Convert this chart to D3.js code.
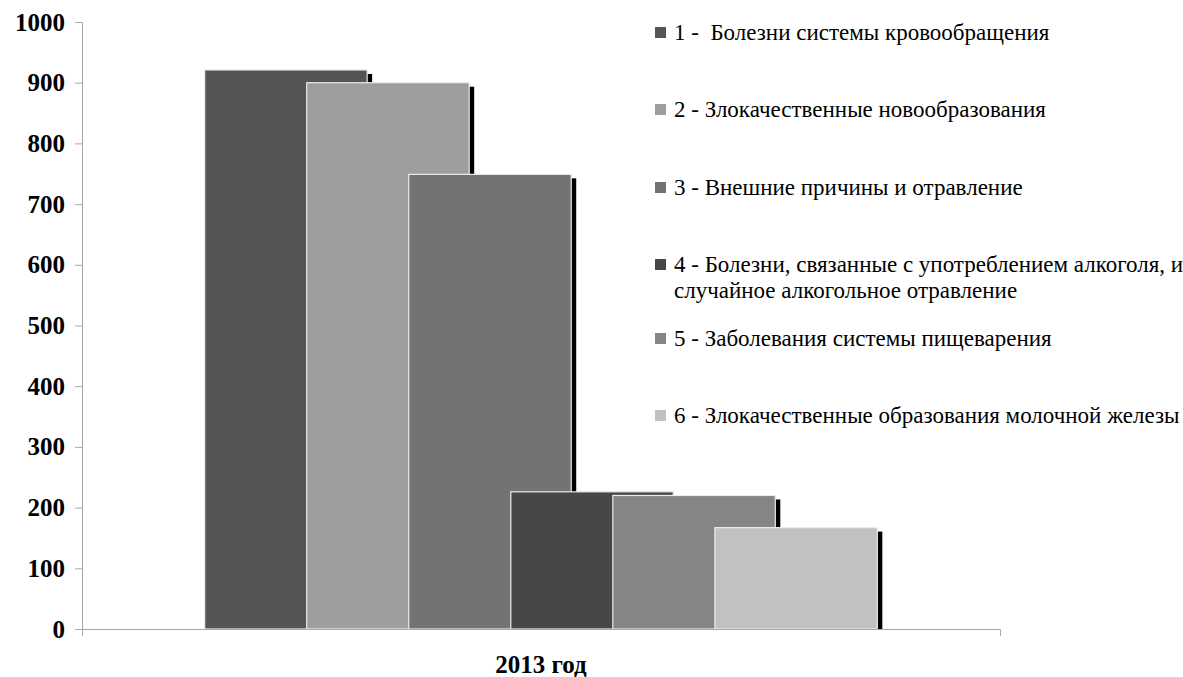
<!DOCTYPE html>
<html>
<head>
<meta charset="utf-8">
<script src="https://cdn.jsdelivr.net/npm/d3@7"></script>
<style>
  html, body { margin: 0; padding: 0; background: #fff; }
  svg { display: block; }
  .serif { font-family: "Liberation Serif", "Times New Roman", Times, "DejaVu Serif", serif; }
</style>
</head>
<body>
<svg id="chart" width="1183" height="677"></svg>
<script>
// Mortality causes, 2013
const categories = ["2013 год"];
const seriesLabels = [
  ["1 -  Болезни системы кровообращения"],
  ["2 - Злокачественные новообразования"],
  ["3 - Внешние причины и отравление"],
  ["4 - Болезни, связанные с употреблением алкоголя, и", "случайное алкогольное отравление"],
  ["5 - Заболевания системы пищеварения"],
  ["6 - Злокачественные образования молочной железы"]
];
const seriesValues = [921, 900, 749, 226, 220, 167];
const seriesColors = ["#555555", "#9e9e9e", "#737373", "#474747", "#858585", "#c1c1c1"];
const yTicks = [0, 100, 200, 300, 400, 500, 600, 700, 800, 900, 1000];

const svg = d3.select("#chart");
const plotLeft = 82, plotRight = 1000, plotTop = 22, plotBottom = 629;

const y = d3.scaleLinear().domain([0, 1000]).range([plotBottom, plotTop]);
const x0 = d3.scaleBand().domain(categories).range([plotLeft, plotRight]).padding(0);

// Overlapping cluster: bar width, step between bars, side gaps
const overlap = 0.372, gapRatio = 1.51, n = seriesValues.length;
const barW = x0.bandwidth() / (1 + (n - 1) * (1 - overlap) + gapRatio);
const step = barW * (1 - overlap);
const groupStart = x0(categories[0]) + (x0.bandwidth() - (barW + (n - 1) * step)) / 2;
const x1 = d3.scaleBand().domain(d3.range(n)).range([groupStart, groupStart + n * step]).padding(0);

// Y axis
const yAxis = d3.axisLeft(y).tickValues(yTicks).tickFormat(d3.format("d")).tickSize(7).tickPadding(11);
const gy = svg.append("g").attr("transform", `translate(${plotLeft},0)`).call(yAxis);
gy.attr("font-family", null).attr("font-size", null);
gy.select(".domain").attr("stroke", "#a8a8a8").attr("d", `M-7,${plotTop + 0.5}H0.5V${plotBottom + 7}`);
gy.selectAll(".tick line").attr("stroke", "#a8a8a8");
gy.selectAll(".tick text")
  .attr("class", "serif")
  .attr("fill", "#000")
  .style("font-weight", "bold")
  .style("font-size", "25px")
  .attr("x", -17);

// Bars with a dark drop shadow on the right
const bars = svg.append("g");
seriesValues.forEach((v, i) => {
  const bx = x1(i);
  bars.append("rect")
    .attr("x", bx + 5).attr("y", y(v) + 4)
    .attr("width", barW).attr("height", plotBottom - y(v) - 4)
    .attr("fill", "#000");
  bars.append("rect")
    .attr("x", bx).attr("y", y(v))
    .attr("width", barW).attr("height", plotBottom - y(v))
    .attr("fill", seriesColors[i])
    .attr("stroke", "#ececec").attr("stroke-width", 1.2);
});

// X axis
const xAxisG = svg.append("g");
xAxisG.append("path")
  .attr("d", `M${plotLeft},${plotBottom + 0.5}H${plotRight + 0.5}V${plotBottom + 7}`)
  .attr("stroke", "#a8a8a8").attr("fill", "none");
xAxisG.append("text")
  .attr("class", "serif")
  .attr("x", x0(categories[0]) + x0.bandwidth() / 2)
  .attr("y", 673)
  .attr("text-anchor", "middle")
  .style("font-weight", "bold")
  .style("font-size", "25px")
  .text(categories[0]);

// Legend
const legendRows = [32, 109, 187, 264, 338, 415];
const legend = svg.append("g");
seriesLabels.forEach((lines, i) => {
  const ly = legendRows[i];
  legend.append("rect")
    .attr("x", 655).attr("y", ly - 5).attr("width", 11).attr("height", 11)
    .attr("fill", seriesColors[i]);
  lines.forEach((t, j) => {
    legend.append("text")
      .attr("class", "serif")
      .attr("x", 674).attr("y", ly + 8 + j * 26)
      .style("font-size", "23px")
      .style("white-space", "pre")
      .attr("fill", "#000")
      .text(t);
  });
});
</script>
</body>
</html>
